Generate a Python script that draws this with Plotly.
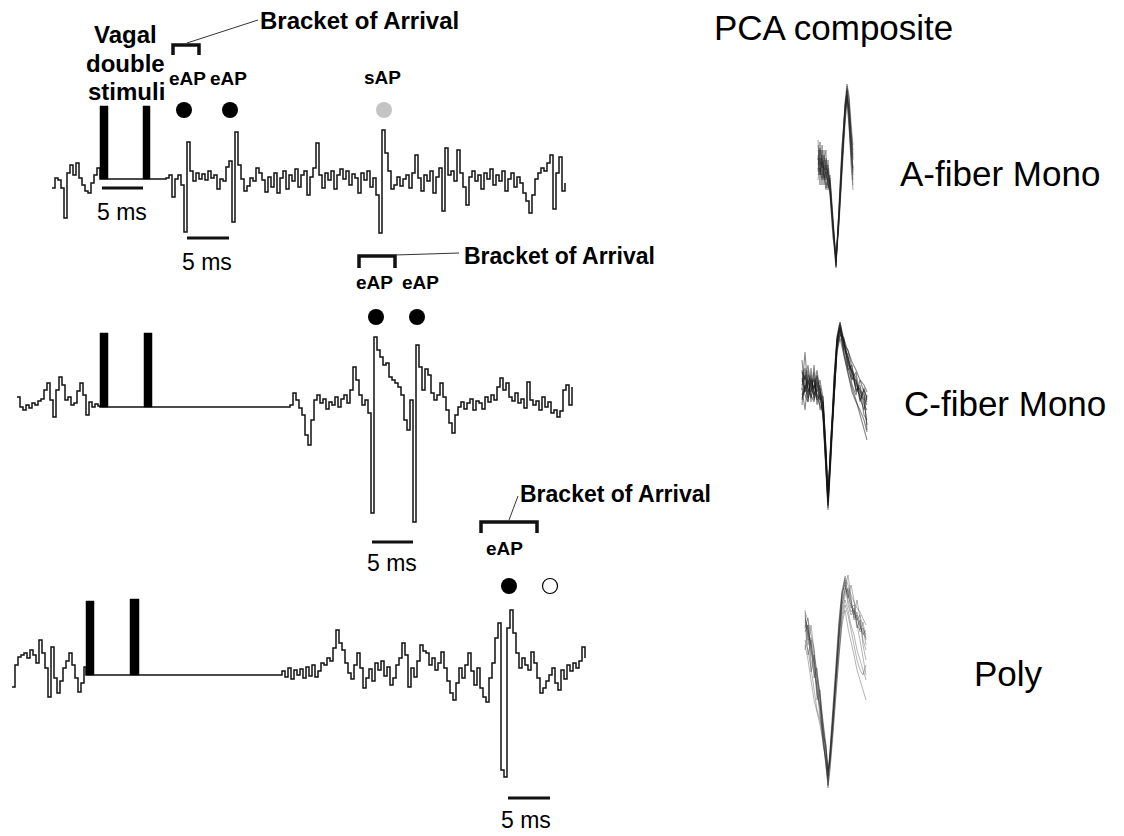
import plotly.graph_objects as go

# ---------------- data ----------------
# Row traces: amplitude samples (up = positive), 3 px sampling in the figure frame
row1_pre = [-5, 5, 3, -5, -35, 10, 18, 8, 20, 5, -2, -8, -10, 0, 8, 15, 5]
row1_post = [5, 8, -14, 4, 8, -2, -49, 41, 12, 2, 10, 4, 9, 3, 12, 5, 8, -6, 4, 2,
             16, 22, -39, 51, 18, 4, -8, -3, 5, 2, 15, 10, 3, -9, 6, -4, 10, -10, 5, 12,
             -6, 8, 2, 14, -4, 8, 12, -12, 6, 15, 40, 8, -5, 10, 3, 12, -6, 8, 14, 4,
             12, -2, 9, 5, -10, 10, 3, 12, -4, 5, -12, -50, 53, 30, 12, -6, -2, 6, -3, 4,
             8, -5, 10, 28, 5, -8, 8, 2, 12, -10, 6, 15, -28, 35, 8, 12, 2, 33, 10, -4,
             -22, 6, 12, 2, 8, -6, 10, 4, 14, -2, 8, 2, 12, -8, 4, 10, -4, 6, 0, -10,
             -18, -30, -12, 4, 10, 15, 12, 20, 28, -26, 10, 26, -8, 0]
row2_pre = [8, -2, -5, 0, -3, 2, 0, 4, 6, 15, 22, 5, -12, 15, 28, 20, 5, 8, 0, 2,
            14, 22, 10, -10, 3, -2, 1, -1]
row2_post = [0, 12, 5, -3, -10, -30, -40, -15, 5, 10, 2, 6, -4, 3, 0, 8, -2, 6, 10, 2,
             15, 38, 25, 10, 0, 5, -8, -108, 68, 55, 48, 40, 42, 28, 25, 22, 18, 10, -15, -25,
             5, -117, 60, 38, 15, 36, 30, 12, 5, 10, 22, 8, -5, -18, -28, -10, -2, 3, -4, 2,
             6, -5, 4, 2, -4, 8, 3, 10, 5, 18, 27, 15, 22, 8, 4, 12, 2, 6, -3, 23,
             5, 0, 4, -5, 8, -2, 3, -8, -5, -12, -6, 15, 20, 0, 18]
row3_pre = [-14, 8, 16, 18, 20, 15, 23, 18, 10, 33, 20, 5, -24, 26, -5, -20, -8, 5, 12, 20,
            8, -5, -19, -10, 6]
row3_post = [2, -4, 5, -6, 3, -2, 4, -5, 6, -3, 8, -4, 2, 10, 8, 15, 12, 25, 43, 30,
             23, 10, 0, -6, 8, 20, 5, -15, -5, 4, -8, 10, 3, 12, -3, 6, -12, -5, 8, 15,
             30, 18, -14, 5, -4, 12, 28, 22, 20, 8, 15, 3, 10, 21, 5, -8, -20, -27, -10, 5,
             -5, 8, 20, 2, -12, 5, -15, -24, -29, -5, 10, 35, 50, -97, -104, 45, 63, 40, 20, 5,
             15, 8, 3, 21, 10, -5, -20, -15, -8, -2, 5, -10, -17, 3, -6, 8, 2, 10, 5, 12,
             26, 15]

# stimulus pulses: onset, offset, height
stim_row1 = [(100, 108, 73), (143, 150, 73)]
stim_row2 = [(100, 108, 74), (144, 152, 74)]
stim_row3 = [(86, 94, 74), (130, 139, 76)]

# PCA composites (overlaid waveforms)
pca_a_x = [818, 820, 822, 824, 826, 828, 830, 833, 836, 839, 842, 845, 847, 849, 851, 853]
pca_a = [
    [150, 160, 155, 170, 165, 175, 185, 225, 265, 215, 160, 115, 88, 100, 135, 160],
    [165, 150, 168, 160, 178, 170, 190, 230, 262, 210, 150, 105, 92, 110, 140, 170],
    [158, 172, 162, 180, 168, 182, 178, 220, 258, 220, 165, 120, 96, 118, 150, 175],
    [170, 158, 175, 165, 185, 178, 192, 235, 268, 205, 145, 110, 90, 105, 128, 155],
    [145, 165, 158, 172, 160, 176, 186, 228, 260, 218, 158, 112, 95, 112, 145, 168],
    [175, 168, 180, 172, 188, 182, 195, 238, 255, 212, 155, 118, 100, 125, 155, 180],
    [160, 148, 165, 155, 170, 165, 182, 222, 263, 222, 162, 108, 86, 98, 130, 150],
    [168, 175, 162, 178, 172, 185, 190, 232, 266, 208, 148, 104, 94, 115, 148, 172],
    [140, 175, 150, 185, 158, 190, 175, 218, 262, 225, 170, 125, 100, 128, 160, 185],
    [180, 160, 185, 150, 180, 160, 188, 226, 260, 216, 152, 102, 84, 95, 122, 145],
    [155, 185, 145, 175, 190, 168, 194, 236, 267, 210, 150, 108, 90, 120, 165, 190],
    [172, 142, 178, 162, 150, 188, 180, 224, 259, 219, 160, 114, 98, 108, 138, 158],
]
pca_c_x = [802, 805, 808, 811, 814, 817, 820, 823, 826, 828, 831, 834, 837, 840, 844, 848, 852, 856, 860, 864, 867]
pca_c = [
    [385, 375, 395, 380, 390, 370, 392, 405, 455, 500, 440, 385, 340, 325, 345, 362, 372, 385, 392, 398, 405],
    [395, 388, 380, 398, 385, 395, 400, 410, 465, 505, 450, 390, 345, 330, 350, 358, 378, 380, 400, 390, 398],
    [378, 392, 385, 375, 400, 388, 380, 398, 448, 495, 445, 395, 350, 335, 340, 370, 365, 392, 385, 405, 410],
    [400, 385, 398, 390, 378, 400, 395, 415, 470, 508, 455, 380, 338, 322, 348, 355, 375, 388, 395, 400, 425],
    [372, 380, 365, 388, 395, 380, 398, 402, 452, 498, 438, 388, 342, 328, 352, 368, 380, 372, 398, 410, 395],
    [390, 352, 392, 385, 380, 392, 385, 408, 460, 503, 448, 392, 348, 334, 338, 360, 385, 395, 380, 392, 430],
    [382, 368, 388, 395, 402, 375, 390, 400, 458, 500, 442, 386, 344, 326, 342, 365, 370, 378, 402, 388, 400],
    [398, 390, 375, 382, 392, 398, 405, 412, 468, 506, 452, 382, 340, 328, 346, 350, 368, 390, 388, 415, 420],
    [360, 392, 370, 402, 365, 398, 388, 415, 462, 502, 446, 396, 352, 338, 356, 375, 392, 402, 410, 420, 432],
    [405, 372, 402, 368, 398, 382, 410, 402, 455, 499, 440, 378, 336, 322, 340, 352, 362, 370, 380, 385, 392],
    [388, 410, 378, 392, 372, 405, 392, 418, 472, 510, 458, 398, 346, 330, 355, 372, 388, 400, 415, 428, 440],
    [370, 395, 402, 378, 388, 376, 400, 396, 450, 496, 436, 384, 342, 324, 344, 358, 372, 382, 390, 395, 402],
]
pca_p_x = [805, 808, 811, 814, 817, 820, 823, 826, 828, 830, 833, 836, 839, 842, 845, 848, 851, 854, 857, 860, 863, 866]
pca_p = [
    [620, 630, 645, 660, 680, 700, 725, 752, 775, 760, 720, 675, 630, 600, 588, 595, 605, 612, 620, 615, 628, 635],
    [628, 618, 650, 668, 690, 708, 735, 758, 778, 755, 715, 668, 625, 595, 582, 600, 612, 608, 625, 630, 622, 640],
    [615, 640, 638, 655, 672, 695, 720, 748, 770, 762, 725, 680, 635, 605, 592, 590, 602, 618, 612, 625, 635, 630],
    [632, 625, 660, 672, 685, 712, 740, 762, 782, 752, 710, 662, 620, 592, 585, 605, 615, 610, 628, 620, 640, 650],
    [622, 635, 642, 665, 695, 705, 728, 755, 772, 758, 722, 678, 640, 610, 596, 588, 600, 620, 615, 632, 628, 645],
    [640, 650, 668, 690, 710, 720, 738, 760, 785, 765, 728, 685, 645, 615, 600, 610, 625, 635, 650, 660, 670, 680],
    [618, 628, 652, 662, 678, 698, 730, 750, 776, 750, 712, 665, 622, 590, 578, 592, 608, 605, 618, 626, 632, 638],
    [645, 660, 680, 700, 712, 725, 742, 765, 788, 768, 730, 690, 650, 620, 605, 615, 630, 645, 660, 670, 675, 665],
    [610, 645, 625, 650, 700, 690, 735, 745, 772, 758, 718, 672, 628, 598, 580, 598, 585, 600, 625, 640, 660, 675],
    [650, 625, 672, 655, 688, 718, 732, 768, 780, 755, 720, 676, 634, 604, 590, 575, 598, 615, 600, 618, 645, 660],
    [625, 655, 640, 678, 668, 702, 745, 760, 786, 770, 735, 692, 655, 625, 610, 628, 640, 655, 670, 680, 690, 700],
    [612, 620, 635, 648, 675, 692, 722, 745, 770, 754, 716, 670, 626, 594, 576, 585, 595, 602, 608, 612, 618, 625],
]

row_labels = ["A-fiber Mono", "C-fiber Mono", "Poly"]

# ---------------- figure ----------------
fig = go.Figure()
BLACK = "#111111"
FONT = "Liberation Sans, Arial, sans-serif"


def add_row(pre, pre_start, post, post_start, base, flat_amp, stims):
    xs = [pre_start + 3 * i for i in range(len(pre))]
    ys = [base - v for v in pre]
    flat_y = base - flat_amp
    xs += [stims[0][0], post_start - 1]
    ys += [flat_y, flat_y]
    xs += [post_start + 3 * i for i in range(len(post))]
    ys += [base - v for v in post]
    fig.add_trace(go.Scatter(x=xs, y=ys, mode="lines", line=dict(color=BLACK, width=1.5, shape="hv"),
                             hoverinfo="skip"))
    for (a, b, h) in stims:
        fig.add_trace(go.Scatter(x=[a, b, b, a, a], y=[flat_y, flat_y, flat_y - h, flat_y - h, flat_y],
                                 mode="lines", fill="toself", fillcolor="#000000",
                                 line=dict(color="#000000", width=0.5), hoverinfo="skip"))


add_row(row1_pre, 52, row1_post, 166, 183, 4, stim_row1)
add_row(row2_pre, 17, row2_post, 290, 405, -2, stim_row2)
add_row(row3_pre, 12, row3_post, 282, 673, -2, stim_row3)

# PCA composites
for w in pca_a:
    fig.add_trace(go.Scatter(x=pca_a_x, y=w, mode="lines", line=dict(color="rgba(30,30,30,0.4)", width=1),
                             hoverinfo="skip"))
for w in pca_c:
    fig.add_trace(go.Scatter(x=pca_c_x, y=w, mode="lines", line=dict(color="rgba(20,20,20,0.5)", width=1.1),
                             hoverinfo="skip"))
for w in pca_p:
    fig.add_trace(go.Scatter(x=pca_p_x, y=w, mode="lines", line=dict(color="rgba(40,40,40,0.35)", width=1),
                             hoverinfo="skip"))


def hline(x0, x1, y, w):
    fig.add_trace(go.Scatter(x=[x0, x1], y=[y, y], mode="lines", line=dict(color=BLACK, width=w),
                             hoverinfo="skip"))


def bracket(x0, x1, y, tick):
    fig.add_trace(go.Scatter(x=[x0, x0, x1, x1], y=[y + tick, y, y, y + tick], mode="lines",
                             line=dict(color=BLACK, width=3.5), hoverinfo="skip"))


def leader(x0, y0, x1, y1):
    fig.add_trace(go.Scatter(x=[x0, x1], y=[y0, y1], mode="lines", line=dict(color="#333333", width=1),
                             hoverinfo="skip"))


# scale bars
hline(102, 143, 188, 3)
hline(187, 229, 238, 3)
hline(372, 413, 542, 3)
hline(508, 550, 798, 3)

# brackets of arrival
bracket(173, 199, 45, 10)
leader(187, 43, 258, 20)
bracket(359, 395, 256, 12)
leader(395, 255, 459, 253)
bracket(481, 537, 522, 11)
leader(509, 520, 518, 496)

# markers
fig.add_trace(go.Scatter(x=[184, 230, 376, 417, 509], y=[110, 110, 317, 317, 586], mode="markers",
                         marker=dict(size=16, color="#000000"), hoverinfo="skip"))
fig.add_trace(go.Scatter(x=[384], y=[110], mode="markers",
                         marker=dict(size=16, color="#c4c4c4"), hoverinfo="skip"))
fig.add_trace(go.Scatter(x=[550], y=[586], mode="markers",
                         marker=dict(size=15, color="white", line=dict(color="#000", width=1.2)),
                         hoverinfo="skip"))


def text(x, y, s, size, bold=False, anchor="center"):
    fig.add_annotation(x=x, y=y, xref="x", yref="y", text=("<b>%s</b>" % s) if bold else s,
                       showarrow=False, xanchor=anchor, yanchor="middle",
                       font=dict(family=FONT, size=size, color="#000000"))


text(125, 34, "Vagal", 24, True)
text(125, 63, "double", 24, True)
text(126, 91, "stimuli", 24, True)
text(258, 20, "Bracket of Arrival", 24, True, "left")
text(462, 256, "Bracket of Arrival", 23, True, "left")
text(518, 494, "Bracket of Arrival", 23, True, "left")
text(187, 78, "eAP", 19, True)
text(228, 78, "eAP", 19, True)
text(382, 77, "sAP", 19, True)
text(374, 282, "eAP", 19, True)
text(420, 282, "eAP", 19, True)
text(504, 548, "eAP", 19, True)
text(122, 212, "5 ms", 23)
text(207, 262, "5 ms", 23)
text(392, 563, "5 ms", 23)
text(526, 820, "5 ms", 23)
text(833, 27, "PCA composite", 35)
text(1000, 173, row_labels[0], 35)
text(1005, 403, row_labels[1], 35)
text(1008, 673, row_labels[2], 35)

fig.update_layout(width=1124, height=836, margin=dict(l=0, r=0, t=0, b=0),
                  paper_bgcolor="white", plot_bgcolor="white", showlegend=False,
                  xaxis=dict(range=[0, 1124], visible=False, fixedrange=True),
                  yaxis=dict(range=[836, 0], visible=False, fixedrange=True))
fig.write_html("out.html")
